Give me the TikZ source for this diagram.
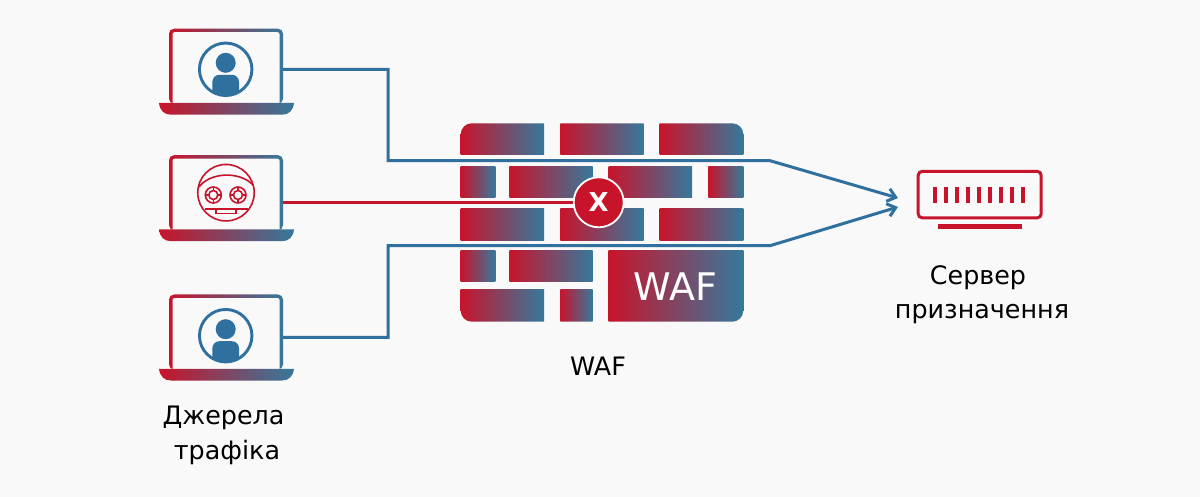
\documentclass[tikz,border=0pt]{standalone}
\usepackage{fontspec}
\setmainfont{DejaVu Sans}
\usetikzlibrary{arrows.meta,positioning}
\definecolor{wafred}{HTML}{C8142B}
\definecolor{wafblue}{HTML}{35799C}
\definecolor{linkblue}{HTML}{30709F}
\definecolor{pagebg}{HTML}{F9F9F9}
\tikzset{
  grad/.style={left color=wafred,right color=wafblue,middle color=wafred!50!wafblue},
  link/.style={draw=linkblue,line width=3,line join=miter},
  caption/.style={font=\fontsize{25.4}{25.4}\selectfont,text=black,inner sep=0,anchor=base},
}
% one laptop: name, x of the centre, y of the top edge
\newcommand{\laptop}[3]{
  \node[grad,rounded corners=5,minimum width=114,minimum height=75,inner sep=0,anchor=north]
    (#1) at (#2,#3) {};
  \node[fill=pagebg,rounded corners=2,minimum width=107,minimum height=75,inner sep=0,anchor=north]
    (#1in) at (#2,#3+3.5) {};
  \shade[grad] (#2-67,#3+74.5) .. controls (#2-66,#3+82) and (#2-62,#3+86.2) .. (#2-55,#3+86.2)
    -- (#2+56,#3+86.2) .. controls (#2+63,#3+86.2) and (#2+67,#3+82) .. (#2+68,#3+74.5) -- cycle;
}
% icon of a person: name, centre
\newcommand{\person}[3]{
  \node[circle,draw=linkblue,line width=2.9,minimum size=52.5,inner sep=0] (#1) at (#2,#3) {};
  \fill[linkblue] (#2,#3-6.5) circle (10);
  \begin{scope}
    \clip (#2,#3) circle (25.5);
    \fill[linkblue,rounded corners=7] (#2-13.3,#3+30) rectangle (#2+13.3,#3+5.5);
  \end{scope}
}
\begin{document}
\begin{tikzpicture}[x=1pt,y=-1pt]
\useasboundingbox[fill=pagebg] (0,0) rectangle (1200,497);

\laptop{lapa}{226}{28.5}
\laptop{lapb}{226}{155}
\laptop{lapc}{226}{294.3}
\person{usera}{225.7}{69.3}
\person{userc}{225.7}{335.7}

% robot
\begin{scope}[wafred,line width=1.6]
\node[circle,draw=wafred,line width=1.6,minimum size=56.5,inner sep=0] (bot) at (226,192.7) {};
\draw (199,187) .. controls (210,172) and (240,171) .. (253,185);
\foreach \eye in {213.3,238}{
  \draw (\eye,195) circle (8) (\eye,195) circle (4.5);
  \draw (\eye-8,195) -- (\eye-4.5,195) (\eye+4.5,195) -- (\eye+8,195)
        (\eye,187) -- (\eye,190.5) (\eye,199.5) -- (\eye,203);
}
\draw (204.5,209.3) -- (247.5,209.3);
\draw (216,209.3) rectangle (236,213.5);
\end{scope}

% wall
\begin{scope}
\clip[rounded corners=11] (460.7,123.3) rectangle (743.3,321.7);
\foreach \xa/\ya/\xb/\yb in {460.7/123.3/544/155,560.3/123.3/643.7/155,659.7/123.3/743.3/155,
    460.7/166.3/495.3/198,509.3/166.3/592.7/198,608.7/166.3/692/198,708.3/166.3/743.3/198,
    460.7/208.7/544/240.3,560.3/208.7/643.7/240.3,659.7/208.7/743.3/240.3,
    460.7/250.3/495.3/282,509.3/250.3/592.7/282,608.7/250.3/743.3/321.7,
    460.7/290/544/321.7,560.3/290/592.7/321.7}{
  \shade[grad] (\xa,\ya) rectangle (\xb,\yb);
}
\end{scope}
\node[text=white,font=\fontsize{38}{38}\selectfont,inner sep=0,anchor=base] (waf) at (675.5,300) {WAF};

% server
\node[draw=wafred,line width=3,rounded corners=4,minimum width=123,minimum height=46.5,inner sep=0] (srv) at (979.7,194.6) {};
\foreach \i in {0,...,8}{
  \fill[wafred] (933.3+\i*11,186.7) rectangle (937.3+\i*11,203.3);
}
\fill[wafred] (937.7,224) rectangle (1021.7,228.7);
\coordinate (outa) at (283,69.3);
\coordinate (outb) at (283,202.3);
\coordinate (outc) at (283,337.3);
\coordinate (inup) at (898,198);
\coordinate (indown) at (898,207);
\coordinate (wallup) at (770,160.7);
\coordinate (walldown) at (770,245.7);

% connectors
\node[circle,fill=wafred,draw=white,line width=1.8,minimum size=50,inner sep=0,text=white,font=\bfseries\fontsize{26}{26}\selectfont] (stop) at (598.7,202.3) {X};
\draw[link,-{Straight Barb[length=8,width=13]}] (outa) -- (388,69.3) -- (388,160.7) -- (wallup) -- (inup);
\draw[link,-{Straight Barb[length=8,width=13]}] (outc) -- (388,337.3) -- (388,245.7) -- (walldown) -- (indown);
\draw[draw=wafred,line width=2.6] (outb) -- (stop.west);

\node[caption] (srcone) at (223.5,424.3) {Джерела};
\node[caption] (srctwo) at (227,459) {трафіка};
\node[caption] (wallcap) at (598,375) {WAF};
\node[caption] (dstone) at (978,284.3) {Сервер};
\node[caption] (dsttwo) at (982,318.3) {призначення};
\end{tikzpicture}
\end{document}
